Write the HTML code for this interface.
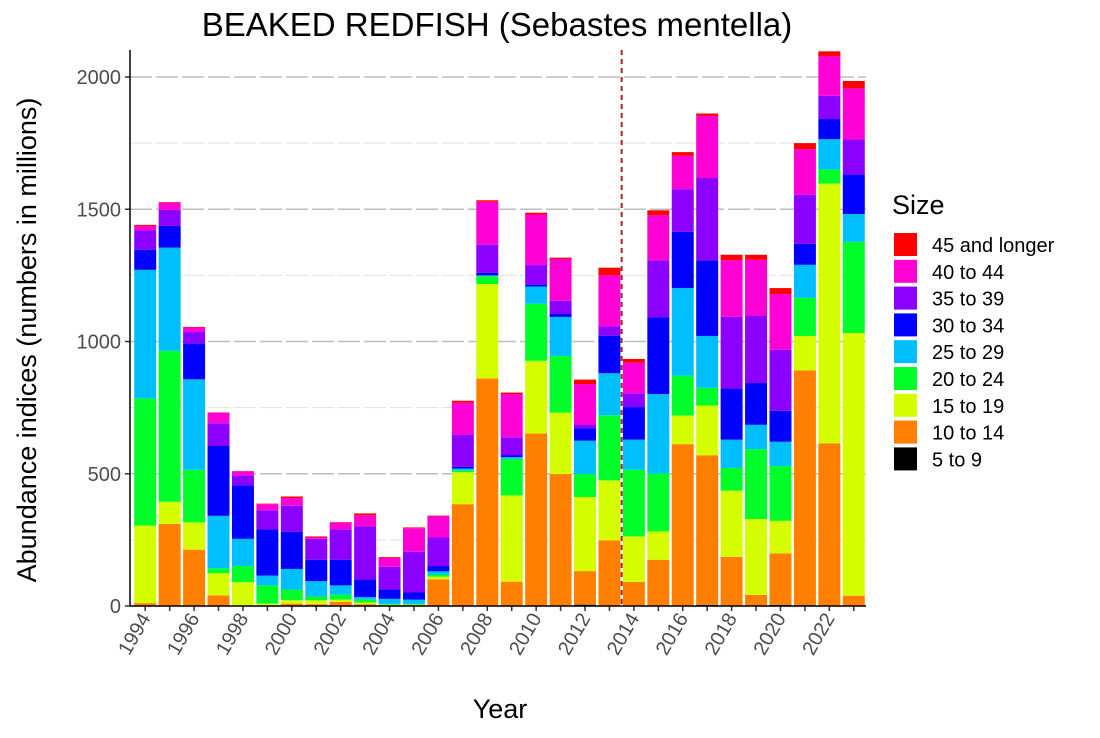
<!DOCTYPE html>
<html><head><meta charset="utf-8"><style>
body{margin:0;background:#fff;}
svg text{font-family:"Liberation Sans",Arial,sans-serif;}
</style></head><body>
<svg id="chart" width="1100" height="733" viewBox="0 0 1100 733" xmlns="http://www.w3.org/2000/svg">
<rect width="1100" height="733" fill="#fff"/>
<text x="497" y="36" font-size="33" text-anchor="middle" fill="#000">BEAKED REDFISH (Sebastes mentella)</text>
<text x="500" y="718" font-size="27" text-anchor="middle" fill="#000">Year</text>
<text transform="translate(36,340) rotate(-90)" font-size="27" text-anchor="middle" fill="#000">Abundance indices (numbers in millions)</text>
<g id="grid"></g><g id="bars"></g><g id="axes"></g><g id="legend"></g>
</svg>
<script>
const years=[1994,1995,1996,1997,1998,1999,2000,2001,2002,2003,2004,2005,2006,2007,2008,2009,2010,2011,2012,2013,2014,2015,2016,2017,2018,2019,2020,2021,2022,2023];
const sizeClasses=["5 to 9","10 to 14","15 to 19","20 to 24","25 to 29","30 to 34","35 to 39","40 to 44","45 and longer"];
const s5to9=[0,0,0,0,0,0,0,0,0,0,0,0,0,0,0,0,0,0,5,0,0,0,0,4,0,0,4,3,0,0];
const s10to14=[11,310,213,40,0,3,9,7,16,7,3,3,101,385,860,92,652,499,127,248,91,175,612,566,186,42,195,888,615,39];
const s15to19=[293,84,103,84,90,6,13,15,8,6,2,2,10,121,357,326,275,232,280,227,172,107,108,188,250,287,123,130,982,993];
const s20to24=[481,571,199,19,61,69,40,14,19,11,3,3,8,7,30,138,216,214,87,246,252,219,151,67,86,264,207,144,53,345];
const s25to29=[486,390,342,198,103,37,78,58,35,10,19,16,12,7,3,7,65,148,126,159,114,300,331,196,107,92,92,125,115,105];
const s30to34=[76,82,135,264,202,174,141,81,97,67,36,27,20,6,10,6,7,11,46,142,123,290,213,286,193,158,117,79,76,150];
const s35to39=[73,61,44,86,37,73,98,79,115,200,85,154,108,122,106,69,74,50,15,35,52,215,161,311,271,255,231,186,88,132];
const s40to44=[17,27,17,40,16,23,29,5,26,42,34,89,82,121,162,162,191,158,153,194,116,172,126,235,214,211,210,172,150,193];
const s45plus=[4,2,2,1,1,2,6,4,1,7,3,3,1,7,6,7,7,5,17,28,14,18,14,9,21,19,23,23,18,28];
const yTicks=[0,500,1000,1500,2000];
const xLabelYears=[1994,1996,1998,2000,2002,2004,2006,2008,2010,2012,2014,2016,2018,2020,2022];
const series=[s5to9,s10to14,s15to19,s20to24,s25to29,s30to34,s35to39,s40to44,s45plus];
const colors=["#000000","#ff8000","#d5ff00","#00ff2a","#00bfff","#0000ff","#8c00ff","#ff00d5","#ff0000"];
const NS="http://www.w3.org/2000/svg";
const x0=130,x1=866,y0=606,yMax=2100,yTop=50;
const step=(x1-x0-3)/years.length;
function xs(i){return x0+3+step*(i+0.5);}
function ys(v){return y0-v*(y0-77)/2000;}
function mk(t,a,p){const e=document.createElementNS(NS,t);for(const k in a)e.setAttribute(k,a[k]);p.appendChild(e);return e;}
const grid=document.getElementById('grid'),bars=document.getElementById('bars'),axes=document.getElementById('axes'),legend=document.getElementById('legend');
for(let v=250;v<=2000;v+=500){const g=mk('line',{x1:x0,x2:x1,y1:ys(v),y2:ys(v),stroke:'#e0e0e0','stroke-width':1,'stroke-dasharray':'22 4'},grid);

}
yTicks.forEach(v=>{const g=mk('line',{x1:x0,x2:x1,y1:ys(v),y2:ys(v),stroke:'#bdbdbd','stroke-width':1.5,'stroke-dasharray':'22 4'},grid);


const tk=mk('line',{x1:x0-5,x2:x0,y1:ys(v),y2:ys(v),stroke:'#333','stroke-width':1.5},axes);


const t=mk('text',{x:x0-9,y:ys(v)+7,'font-size':20,'text-anchor':'end',fill:'#4d4d4d'},axes);t.textContent=v;

});
const bw=step*0.9;
years.forEach((yr,i)=>{let cum=0;series.forEach((s,k)=>{const v=s[i];if(v<=0){return;}
const r=mk('rect',{x:xs(i)-bw/2,y:ys(cum+v),width:bw,height:ys(cum)-ys(cum+v),fill:colors[k]},bars);


cum+=v;});
const tk=mk('line',{x1:xs(i),x2:xs(i),y1:y0,y2:y0+5,stroke:'#333','stroke-width':1.5},axes);


if(xLabelYears.includes(yr)){const t=mk('text',{transform:`translate(${xs(i)+6},${y0+12}) rotate(-60)`,'font-size':20,'text-anchor':'end',fill:'#4d4d4d'},axes);t.textContent=yr;

}});
const ix=years.indexOf(2013);const vx=(xs(ix)+xs(ix+1))/2;
const vl=mk('line',{x1:vx,x2:vx,y1:yTop,y2:y0,stroke:'#b22222','stroke-width':2,'stroke-dasharray':'5 4'},axes);


const ya=mk('line',{x1:x0,x2:x0,y1:yTop,y2:y0,stroke:'#000','stroke-width':1.5},axes);


const xa=mk('line',{x1:x0,x2:x1,y1:y0,y2:y0,stroke:'#000','stroke-width':1.5},axes);


const lt=mk('text',{x:892,y:214,'font-size':27,fill:'#000'},legend);lt.textContent='Size';


for(let k=sizeClasses.length-1,j=0;k>=0;k--,j++){const y=233+j*26.8;
const r=mk('rect',{x:894,y:y,width:23,height:23,fill:colors[k]},legend);


const t=mk('text',{x:932,y:y+19,'font-size':20,fill:'#000'},legend);t.textContent=sizeClasses[k];

}
</script>
</body></html>
